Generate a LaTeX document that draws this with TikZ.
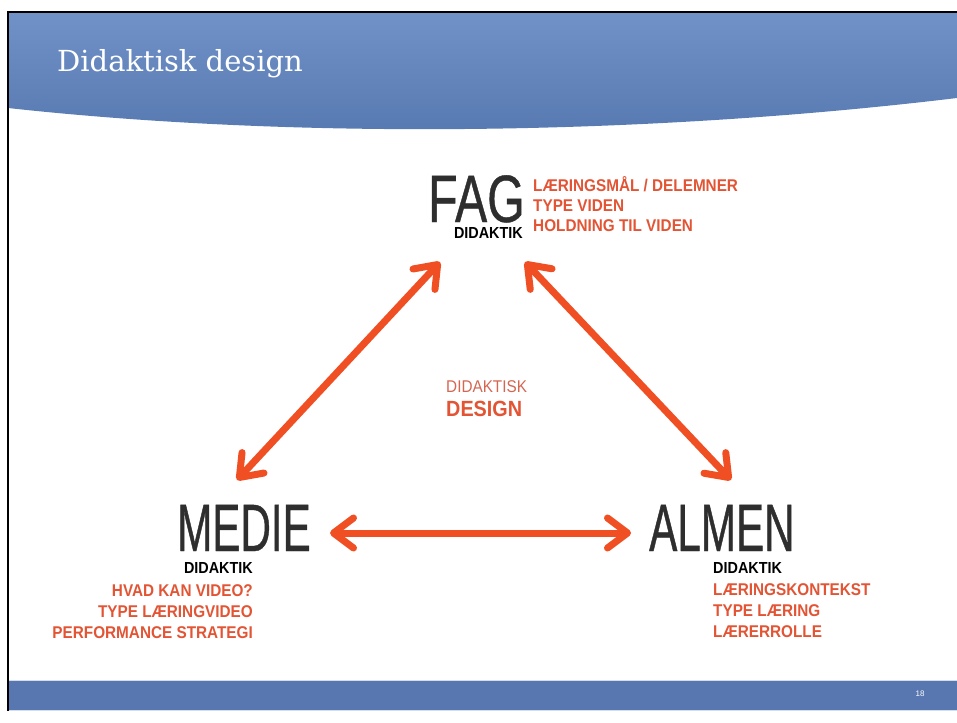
\documentclass[tikz,border=0pt]{standalone}
\usepackage{fontspec}
\setmainfont{Liberation Sans}
\newfontfamily\titelfont{DejaVu Serif}
\newfontfamily\storfont[FakeStretch=0.63,FakeBold=0.6]{Liberation Sans}
\newfontfamily\fagfont[FakeStretch=0.72,FakeBold=0.6]{Liberation Sans}
\newfontfamily\rodfont[FakeStretch=0.9]{Liberation Sans}
\usepackage{tikz}
\usetikzlibrary{arrows.meta}
\definecolor{pilrod}{RGB}{240,78,35}
\definecolor{tekstrod}{RGB}{226,84,52}
\definecolor{lysrod}{RGB}{212,102,82}
\definecolor{bjaelke}{RGB}{88,119,176}
\definecolor{hovedtop}{RGB}{112,146,200}
\definecolor{hovedbund}{RGB}{86,120,176}
\tikzstyle{pil}=[line width=7pt,draw=pilrod,<->,>={Straight Barb[length=20pt,width=30pt,round]}]
\tikzstyle{stor}=[inner sep=0pt,text depth=0pt,text=black!82,font=\storfont\fontsize{67}{67}\selectfont]
\tikzstyle{didaktik}=[inner sep=0pt,text depth=0pt,text=black,font=\rodfont\bfseries\fontsize{16}{16}\selectfont]
\tikzstyle{punkt}=[inner sep=0pt,text depth=0pt,text=tekstrod,font=\rodfont\bfseries\fontsize{17}{17}\selectfont]

\begin{document}
\begin{tikzpicture}[x=1pt,y=-1pt]
\useasboundingbox (0,0) rectangle (957,722);
\begin{scope} %ramme og hoved
	\shade[top color=hovedtop,bottom color=hovedbund] (8,12) -- (957,12) -- (957,98)
		.. controls (650,135) and (300,140) .. (8,108) -- cycle;
	\fill[bjaelke] (8,680) rectangle (957,711);
	\draw[white!75!bjaelke,line width=1.2pt] (8,680.6) -- (957,680.6);
	\draw[white!75!bjaelke,line width=1.2pt] (8,710.4) -- (957,710.4);
	\draw[line width=2pt] (957,12) -- (8,12) -- (8,711);
	\node[anchor=base west,inner sep=0pt,text=white,font=\titelfont\fontsize{29}{29}\selectfont] (T) at (57,72) {Didaktisk design};
	\node[inner sep=0pt,text=white,font=\fontsize{8}{8}\selectfont] (N) at (920,694) {18};
\end{scope}
\begin{scope} %hjoerner
	%fag
	\node[stor,font=\fagfont\fontsize{67}{67}\selectfont,anchor=base west] (FAG) at (428,222) {FAG};
	\node[didaktik,anchor=base east] (FD) at (523,238) {DIDAKTIK};
	\node[punkt,anchor=base west] (F1) at (533,191) {LÆRINGSMÅL / DELEMNER};
	\node[punkt,anchor=base west] (F2) at (533,211) {TYPE VIDEN};
	\node[punkt,anchor=base west] (F3) at (533,231) {HOLDNING TIL VIDEN};
	%medie
	\node[stor,anchor=base east] (MEDIE) at (311,551) {MEDIE};
	\node[didaktik,anchor=base east] (MD) at (253,573) {DIDAKTIK};
	\node[punkt,anchor=base east] (M1) at (253,596) {HVAD KAN VIDEO?};
	\node[punkt,anchor=base east] (M2) at (253,617) {TYPE LÆRINGVIDEO};
	\node[punkt,anchor=base east] (M3) at (253,638) {PERFORMANCE STRATEGI};
	%almen
	\node[stor,anchor=base west] (ALMEN) at (649,551) {ALMEN};
	\node[didaktik,anchor=base west] (AD) at (713,573) {DIDAKTIK};
	\node[punkt,anchor=base west] (A1) at (713,595) {LÆRINGSKONTEKST};
	\node[punkt,anchor=base west] (A2) at (713,616) {TYPE LÆRING};
	\node[punkt,anchor=base west] (A3) at (713,637) {LÆRERROLLE};
	%midte
	\node[anchor=base west,inner sep=0pt,text=lysrod,font=\rodfont\fontsize{17}{17}\selectfont] (DD) at (446,392) {DIDAKTISK};
	\node[anchor=base west,inner sep=0pt,text=tekstrod,font=\rodfont\bfseries\fontsize{22}{22}\selectfont] (DS) at (446,416) {DESIGN};
\end{scope}
\begin{scope} %pile
	\coordinate (FV) at (440,262);
	\coordinate (FH) at (525,262);
	\coordinate (MO) at (237,480);
	\coordinate (MH) at (330,533);
	\coordinate (AO) at (731,480);
	\coordinate (AV) at (631,533);
	\draw[pil] (MO) -- (FV);
	\draw[pil] (FH) -- (AO);
	\draw[pil] (MH) -- (AV);
\end{scope}
\end{tikzpicture}
\end{document}
